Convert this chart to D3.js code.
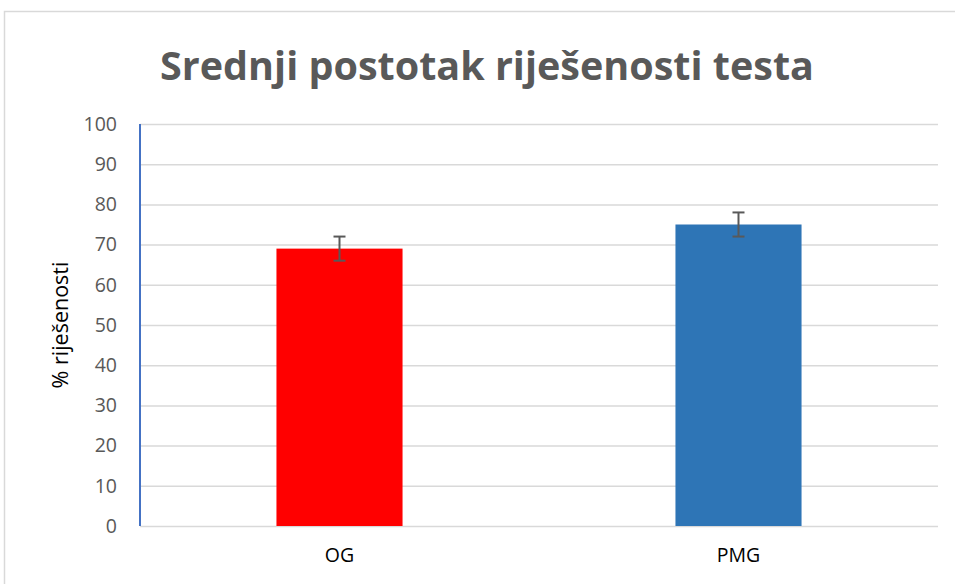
<!DOCTYPE html>
<html>
<head>
<meta charset="utf-8">
<script src="https://cdn.jsdelivr.net/npm/d3@7"></script>
<style>
  body { margin: 0; background: #fff; }
  text { font-family: "Open Sans", "Liberation Sans", sans-serif; fill: #595959; }
</style>
</head>
<body>
<div id="chart"></div>
<script>
const categories = ["OG", "PMG"];
const values = [69, 75];
const errors = [3, 3];
const colors = ["#FF0000", "#2E75B6"];
const yTicks = [0, 10, 20, 30, 40, 50, 60, 70, 80, 90, 100];
const title = "Srednji postotak riješenosti testa";
const yTitle = "% riješenosti";

const svgWidth = 955;
const svgHeight = 584;
const margin = { top: 124, right: 17, bottom: 58, left: 140 };
const width = svgWidth - margin.left - margin.right;
const height = svgHeight - margin.top - margin.bottom;

const svg = d3
  .select("#chart")
  .append("svg")
  .attr("width", svgWidth)
  .attr("height", svgHeight);

// chart border
svg
  .append("rect")
  .attr("x", 4.5)
  .attr("y", 11.5)
  .attr("width", 970)
  .attr("height", 600)
  .attr("fill", "none")
  .attr("stroke", "#d9d9d9")
  .attr("stroke-width", 1.5);

const g = svg
  .append("g")
  .attr("transform", `translate(${margin.left}, ${margin.top})`);

const xScale = d3
  .scaleBand()
  .domain(categories)
  .range([0, width])
  .paddingInner(0.684)
  .paddingOuter(0.342);

const yScale = d3.scaleLinear().domain([0, 100]).range([height, 0]);

// grid
g.append("g")
  .call(d3.axisLeft(yScale).tickValues(yTicks).tickSize(-width).tickFormat(""))
  .call((a) => a.select(".domain").remove())
  .call((a) => a.selectAll("line").attr("stroke", "#d9d9d9").attr("stroke-width", 1.5));

// y axis labels
g.append("g")
  .call(d3.axisLeft(yScale).tickValues(yTicks).tickSize(0).tickPadding(23))
  .call((a) => a.select(".domain").remove())
  .call((a) => a.selectAll("text").attr("font-size", 19.5).style("fill", "#595959"));

// bars
g.selectAll(".bar")
  .data(categories)
  .enter()
  .append("rect")
  .attr("class", "bar")
  .attr("x", (d) => xScale(d))
  .attr("y", (d, i) => yScale(values[i]))
  .attr("width", xScale.bandwidth())
  .attr("height", (d, i) => height - yScale(values[i]))
  .attr("fill", (d, i) => colors[i]);

// error bars
const err = g
  .selectAll(".err")
  .data(categories)
  .enter()
  .append("g")
  .attr("class", "err")
  .attr("stroke", "#595959")
  .attr("stroke-width", 2);
err
  .append("line")
  .attr("x1", (d) => xScale(d) + xScale.bandwidth() / 2)
  .attr("x2", (d) => xScale(d) + xScale.bandwidth() / 2)
  .attr("y1", (d, i) => yScale(values[i] + errors[i]))
  .attr("y2", (d, i) => yScale(values[i] - errors[i]));
[1, -1].forEach((s) => {
  err
    .append("line")
    .attr("x1", (d) => xScale(d) + xScale.bandwidth() / 2 - 6)
    .attr("x2", (d) => xScale(d) + xScale.bandwidth() / 2 + 6)
    .attr("y1", (d, i) => yScale(values[i] + s * errors[i]))
    .attr("y2", (d, i) => yScale(values[i] + s * errors[i]));
});

// y axis line
g.append("line")
  .attr("x1", 0)
  .attr("x2", 0)
  .attr("y1", 0)
  .attr("y2", height)
  .attr("stroke", "#4472C4")
  .attr("stroke-width", 2);

// x axis labels
g.append("g")
  .attr("transform", `translate(0, ${height})`)
  .call(d3.axisBottom(xScale).tickSize(0).tickPadding(22))
  .call((a) => a.select(".domain").remove())
  .call((a) => a.selectAll("text").attr("font-size", 19.5).style("fill", "#000"));

// title
svg
  .append("text")
  .attr("x", 487)
  .attr("y", 80)
  .attr("text-anchor", "middle")
  .attr("font-size", 39.5)
  .attr("font-weight", "bold")
  .text(title);

// y title
svg
  .append("text")
  .attr("transform", "translate(68, 325) rotate(-90)")
  .attr("text-anchor", "middle")
  .attr("font-size", 21.5)
  .style("fill", "#000")
  .text(yTitle);
</script>
</body>
</html>
